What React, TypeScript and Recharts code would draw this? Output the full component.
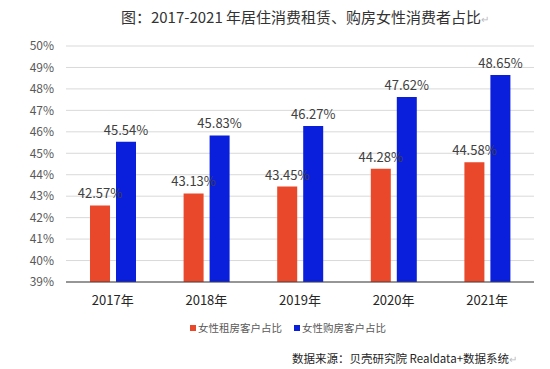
import React from 'react';
import { BarChart, Bar, XAxis, YAxis, CartesianGrid, LabelList } from 'recharts';

const years = ['2017年', '2018年', '2019年', '2020年', '2021年'];
const rentShare = [42.57, 43.13, 43.45, 44.28, 44.58];
const buyShare = [45.54, 45.83, 46.27, 47.62, 48.65];
const yTicks = [39, 40, 41, 42, 43, 44, 45, 46, 47, 48, 49, 50];

const series = [
  { key: 'rent', name: '女性租房客户占比', color: '#E9482A' },
  { key: 'buy', name: '女性购房客户占比', color: '#0A1FDC' },
];

const data = years.map((year, i) => ({
  year,
  rent: rentShare[i],
  buy: buyShare[i],
}));

const FONT = '"Noto Sans CJK SC", "Noto Sans", sans-serif';

export default function App() {
  return (
    <div
      style={{
        position: 'absolute',
        left: 0,
        top: 0,
        width: 550,
        height: 369,
        background: '#fff',
        fontFamily: FONT,
      }}
    >
      <div
        style={{
          position: 'absolute',
          top: 6,
          left: 0,
          width: 610,
          textAlign: 'center',
          fontSize: 15,
          color: '#333',
          lineHeight: '22px',
        }}
      >
        图：2017-2021 年居住消费租赁、购房女性消费者占比
        <span style={{ color: '#bbb', fontSize: 10 }}>↵</span>
      </div>

      <BarChart
        width={550}
        height={369}
        data={data}
        margin={{ top: 46, right: 16, bottom: 57, left: 0 }}
        barSize={20}
        barGap={6}
      >
        <CartesianGrid vertical={false} stroke="#d9d9d9" />
        <XAxis
          dataKey="year"
          height={30}
          axisLine={{ stroke: '#404040' }}
          tickLine={false}
          tickMargin={8}
          tick={{ fill: '#262626', fontSize: 13, fontFamily: FONT }}
        />
        <YAxis
          domain={[39, 50]}
          ticks={yTicks}
          interval={0}
          width={66}
          axisLine={false}
          tickLine={false}
          tickSize={0}
          tickMargin={12}
          tickFormatter={(v: number) => `${v}%`}
          tick={{ fill: '#595959', fontSize: 12, fontFamily: FONT }}
        />
        {series.map((s) => (
          <Bar
            key={s.key}
            dataKey={s.key}
            name={s.name}
            fill={s.color}
            isAnimationActive={false}
          >
            <LabelList
              dataKey={s.key}
              position="top"
              offset={7}
              formatter={(v: number) => `${v.toFixed(2)}%`}
              style={{ fill: '#404040', fontSize: 13, fontFamily: FONT }}
            />
          </Bar>
        ))}
      </BarChart>

      <div
        style={{
          position: 'absolute',
          top: 320,
          left: 190,
          display: 'flex',
          gap: 12,
          fontSize: 10.5,
          color: '#595959',
          lineHeight: '16px',
        }}
      >
        {series.map((s) => (
          <div key={s.key} style={{ display: 'flex', alignItems: 'center' }}>
            <span
              style={{
                display: 'inline-block',
                width: 6,
                height: 6,
                background: s.color,
                marginRight: 2,
              }}
            />
            {s.name}
          </div>
        ))}
      </div>

      <div
        style={{
          position: 'absolute',
          top: 349,
          left: 292,
          fontSize: 11.5,
          color: '#1f1f1f',
          lineHeight: '18px',
          whiteSpace: 'nowrap',
        }}
      >
        数据来源：贝壳研究院 Realdata+数据系统
        <span style={{ color: '#bbb', fontSize: 10 }}>↵</span>
      </div>
    </div>
  );
}
